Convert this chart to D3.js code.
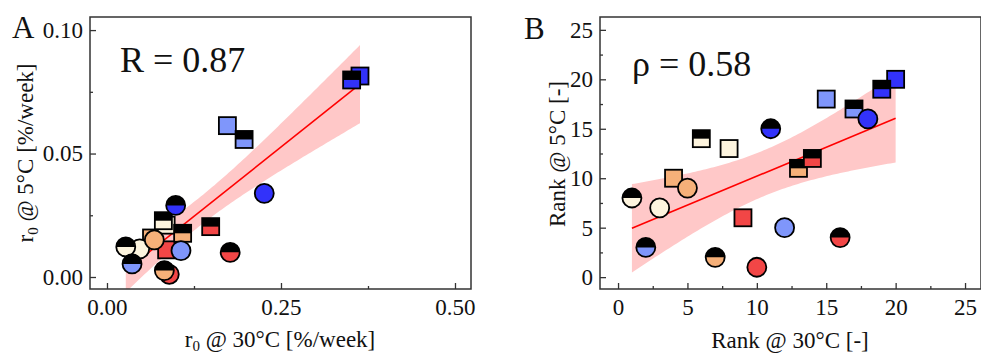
<!DOCTYPE html>
<html>
<head>
<meta charset="utf-8">
<script src="https://cdn.jsdelivr.net/npm/d3@7"></script>
<style>
  body { margin: 0; background: #fff; }
  svg { display: block; font-family: "Liberation Serif", "DejaVu Serif", serif; }
</style>
</head>
<body>
<div id="chart"></div>
<script>
// Data (20 strains)
const rateAt30 = [0.027, 0.036, 0.047, 0.064, 0.068, 0.081, 0.0824, 0.085, 0.0857, 0.0895,
                  0.0987, 0.1063, 0.1087, 0.149, 0.173, 0.177, 0.197, 0.226, 0.3515, 0.3635];
const rateAt5 = [0.0122, 0.0053, 0.0114, 0.0158, 0.0150, 0.0228, 0.0026, 0.0210, 0.0110, 0.0011,
                 0.0290, 0.0107, 0.0177, 0.0204, 0.0613, 0.0100, 0.0557, 0.0339, 0.0798, 0.0814];
const rankAt30 = [1, 2, 3, 4, 5, 6, 7, 8, 9, 10, 11, 12, 13, 14, 15, 16, 17, 18, 19, 20];
const rankAt5 = [8, 3, 7, 10, 9, 14, 2, 13, 6, 1, 15, 5, 11, 12, 18, 4, 17, 16, 19, 20];
const group = ["cream", "lightblue", "cream", "orange", "orange", "cream", "orange", "cream", "red", "red",
               "darkblue", "lightblue", "orange", "red", "lightblue", "red", "lightblue", "darkblue", "darkblue", "darkblue"];
const shape = ["circle", "circle", "circle", "square", "circle", "square", "circle", "square", "square", "circle",
               "circle", "circle", "square", "square", "square", "circle", "square", "circle", "square", "square"];
const half = [true, true, false, false, false, true, true, false, false, false,
              true, false, true, true, false, true, true, false, true, false];

const xTicksA = [0, 0.25, 0.5];
const xMinorA = [0.125, 0.375];
const yTicksA = [0, 0.05, 0.1];
const yMinorA = [0.025, 0.075];
const ticksB = [0, 5, 10, 15, 20, 25];
const minorB = [2.5, 7.5, 12.5, 17.5, 22.5];

const width = 981, height = 356;
const frameColor = "#333";
const fontSize = 23;

const color = d3.scaleOrdinal()
    .domain(["darkblue", "lightblue", "red", "orange", "cream"])
    .range(["#3232fa", "#7f96fb", "#f24646", "#f6b079", "#fdf4de"]);

const svg = d3.select("#chart").append("svg")
    .attr("width", width)
    .attr("height", height);

// Student t (0.975, df=18) for the 95% band
const tCrit = 2.101;

function fit(xs, ys) {
    const n = xs.length;
    const mx = d3.mean(xs), my = d3.mean(ys);
    let sxx = 0, sxy = 0;
    xs.forEach((x, i) => { sxx += (x - mx) ** 2; sxy += (x - mx) * (ys[i] - my); });
    const b = sxy / sxx, a = my - b * mx;
    let ss = 0;
    xs.forEach((x, i) => { ss += (ys[i] - (a + b * x)) ** 2; });
    const s = Math.sqrt(ss / (n - 2));
    return { a, b, s, n, mx, sxx };
}

function drawPanel(opt) {
    const { left, right, top, bottom, xDomain, yDomain, xs, ys } = opt;
    const x = d3.scaleLinear().domain(xDomain).range([left, right]);
    const y = d3.scaleLinear().domain(yDomain).range([bottom, top]);
    const g = svg.append("g");

    const clipId = "clip-" + opt.id;
    svg.append("clipPath").attr("id", clipId)
        .append("rect").attr("x", left).attr("y", top)
        .attr("width", right - left).attr("height", bottom - top);

    // regression + 95% confidence band
    const f = fit(xs, ys);
    const x0 = d3.min(xs), x1 = d3.max(xs);
    const grid = d3.range(0, 101).map(i => x0 + (x1 - x0) * i / 100);
    const band = grid.map(v => {
        const yh = f.a + f.b * v;
        const h = tCrit * f.s * Math.sqrt(1 / f.n + (v - f.mx) ** 2 / f.sxx);
        return { v, lo: yh - h, hi: yh + h };
    });
    const inner = g.append("g").attr("clip-path", `url(#${clipId})`);
    inner.append("path")
        .datum(band)
        .attr("fill", "#ffc8c8")
        .attr("d", d3.area().x(d => x(d.v)).y0(d => y(d.lo)).y1(d => y(d.hi)));
    inner.append("line")
        .attr("x1", x(x0)).attr("x2", x(x1))
        .attr("y1", y(f.a + f.b * x0)).attr("y2", y(f.a + f.b * x1))
        .attr("stroke", "#ff0000").attr("stroke-width", 1.6);

    // axes with inward ticks
    const styleAxis = sel => {
        sel.select(".domain").remove();
        sel.selectAll(".tick line").attr("stroke", frameColor).attr("stroke-width", 1.3);
        sel.selectAll(".tick text").attr("fill", "#111").attr("font-size", fontSize)
            .attr("font-family", "'Liberation Serif', serif");
    };
    g.append("g").attr("transform", `translate(0,${bottom})`)
        .call(d3.axisBottom(x).tickValues(opt.xTicks).tickFormat(opt.fmt).tickSize(-6).tickPadding(10))
        .call(styleAxis);
    g.append("g").attr("transform", `translate(0,${bottom})`)
        .call(d3.axisBottom(x).tickValues(opt.xMinor).tickFormat("").tickSize(-3))
        .call(styleAxis);
    g.append("g").attr("transform", `translate(${left},0)`)
        .call(d3.axisLeft(y).tickValues(opt.yTicks).tickFormat(opt.fmt).tickSize(-6).tickPadding(7))
        .call(styleAxis);
    g.append("g").attr("transform", `translate(${left},0)`)
        .call(d3.axisLeft(y).tickValues(opt.yMinor).tickFormat("").tickSize(-3))
        .call(styleAxis);

    // markers: full squares, half squares, full circles, half circles
    const idx = d3.range(xs.length);
    const order = [
        ...idx.filter(i => shape[i] === "square" && !half[i]),
        ...idx.filter(i => shape[i] === "square" && half[i]),
        ...idx.filter(i => shape[i] === "circle" && !half[i]),
        ...idx.filter(i => shape[i] === "circle" && half[i])
    ];
    const r = 9.5, side = 17;
    order.forEach(i => {
        const cx = x(xs[i]), cy = y(ys[i]);
        const m = g.append("g");
        if (shape[i] === "circle") {
            m.append("circle").attr("cx", cx).attr("cy", cy).attr("r", r).attr("fill", color(group[i]));
            if (half[i]) {
                m.append("path")
                    .attr("d", `M${cx - r},${cy} A${r},${r} 0 0 1 ${cx + r},${cy} Z`)
                    .attr("fill", "#000");
            }
            m.append("circle").attr("cx", cx).attr("cy", cy).attr("r", r)
                .attr("fill", "none").attr("stroke", "#000").attr("stroke-width", 1.8);
        } else {
            m.append("rect").attr("x", cx - side / 2).attr("y", cy - side / 2)
                .attr("width", side).attr("height", side).attr("fill", color(group[i]));
            if (half[i]) {
                m.append("rect").attr("x", cx - side / 2).attr("y", cy - side / 2)
                    .attr("width", side).attr("height", side / 2).attr("fill", "#000");
            }
            m.append("rect").attr("x", cx - side / 2).attr("y", cy - side / 2)
                .attr("width", side).attr("height", side)
                .attr("fill", "none").attr("stroke", "#000").attr("stroke-width", 1.8);
        }
    });

    // frame
    g.append("rect")
        .attr("x", left).attr("y", top)
        .attr("width", right - left).attr("height", bottom - top)
        .attr("fill", "none").attr("stroke", frameColor).attr("stroke-width", 1.5);

    return { x, y, g };
}

// Panel A
const A = drawPanel({
    id: "a", left: 90, right: 471, top: 17, bottom: 289,
    xDomain: [-0.0244, 0.523], yDomain: [-0.00486, 0.1053],
    xs: rateAt30, ys: rateAt5,
    xTicks: xTicksA, xMinor: xMinorA, yTicks: yTicksA, yMinor: yMinorA,
    fmt: d3.format(".2f")
});

// Panel B
const B = drawPanel({
    id: "b", left: 600, right: 981, top: 17, bottom: 289,
    xDomain: [-1.3, 26.15], yDomain: [-1.2, 26.3],
    xs: rankAt30, ys: rankAt5,
    xTicks: ticksB, xMinor: minorB, yTicks: ticksB, yMinor: minorB,
    fmt: d3.format("d")
});

// panel letters
svg.append("text").attr("x", 12).attr("y", 38).attr("font-size", 31).attr("fill", "#111").text("A");
svg.append("text").attr("x", 524).attr("y", 39).attr("font-size", 31).attr("fill", "#111").text("B");

// correlation annotations
svg.append("text").attr("x", 120).attr("y", 72).attr("font-size", 36).attr("fill", "#111").text("R = 0.87");
svg.append("text").attr("x", 632).attr("y", 76).attr("font-size", 36).attr("fill", "#111").text("ρ = 0.58");

// axis titles
const xtA = svg.append("text").attr("x", 280).attr("y", 347).attr("text-anchor", "middle")
    .attr("font-size", fontSize).attr("fill", "#111");
xtA.append("tspan").text("r");
xtA.append("tspan").attr("font-size", 15).attr("dy", 4).text("0");
xtA.append("tspan").attr("dy", -4).text(" @ 30°C [%/week]");

const ytA = svg.append("text").attr("transform", "translate(33,153) rotate(-90)")
    .attr("text-anchor", "middle").attr("font-size", fontSize).attr("fill", "#111");
ytA.append("tspan").text("r");
ytA.append("tspan").attr("font-size", 15).attr("dy", 5).text("0");
ytA.append("tspan").attr("dy", -5).text(" @ 5°C [%/week]");

svg.append("text").attr("x", 790).attr("y", 348).attr("text-anchor", "middle")
    .attr("font-size", fontSize).attr("fill", "#111").text("Rank @ 30°C [-]");
svg.append("text").attr("transform", "translate(565,154) rotate(-90)")
    .attr("text-anchor", "middle").attr("font-size", fontSize).attr("fill", "#111").text("Rank @ 5°C [-]");
</script>
</body>
</html>
